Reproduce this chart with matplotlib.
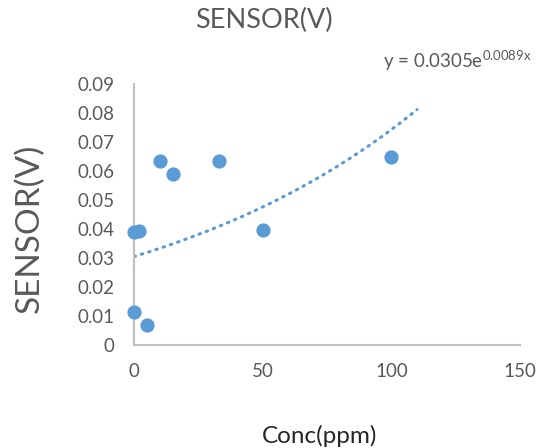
import numpy as np
import matplotlib
matplotlib.use('Agg')
import matplotlib.pyplot as plt

# data
conc = [0, 2, 0, 5, 10, 15, 33, 50, 100]
sensor = [0.039, 0.0393, 0.0115, 0.0068, 0.0633, 0.0588, 0.0633, 0.0397, 0.0648]

# exponential trendline shown in the chart
fit_a = 0.0305
fit_b = 0.0089
fit_end = 110

xticks = [0, 50, 100, 150]
yticks = [0, 0.01, 0.02, 0.03, 0.04, 0.05, 0.06, 0.07, 0.08, 0.09]
ytick_labels = ['0', '0.01', '0.02', '0.03', '0.04', '0.05', '0.06', '0.07', '0.08', '0.09']

plt.rcParams['font.family'] = ['Lato', 'DejaVu Sans']
gray = '#595959'
blue = '#5b9bd5'

fig = plt.figure(figsize=(5.43, 4.48), dpi=100)
ax = fig.add_axes([0.2468, 0.2299, 0.7108, 0.5826])

ax.scatter(conc, sensor, s=105, color=blue, zorder=3, linewidths=0, clip_on=False)

xs = np.linspace(0, fit_end, 200)
ax.plot(xs, fit_a * np.exp(fit_b * xs), color=blue, lw=2.2,
        linestyle=(0, (0.5, 2.0)), dash_capstyle='round', zorder=2)

ax.set_xlim(0, 150)
ax.set_ylim(0, 0.09)
ax.set_xticks(xticks)
ax.set_yticks(yticks)
ax.set_yticklabels(ytick_labels)
ax.tick_params(length=0, labelsize=13.5, colors=gray)
ax.tick_params(axis='x', pad=13)
ax.tick_params(axis='y', pad=14)

for s in ['top', 'right']:
    ax.spines[s].set_visible(False)
for s in ['left', 'bottom']:
    ax.spines[s].set_color('#bfbfbf')
    ax.spines[s].set_linewidth(1.5)

fig.text(0.4862, 0.955, 'SENSOR(V)', ha='center', va='center', fontsize=19.5, color=gray)
fig.text(0.055, 0.49, 'SENSOR(V)', ha='center', va='center', rotation=90,
         fontsize=24, color=gray)
fig.text(0.589, 0.028, 'Conc(ppm)', ha='center', va='center', fontsize=17.5, color='#262626')
fig.text(0.705, 0.865, r'y = 0.0305e$^{\mathregular{0.0089x}}$', ha='left', va='center',
         fontsize=13.5, color=gray)

fig.savefig('out.png', dpi=100)
